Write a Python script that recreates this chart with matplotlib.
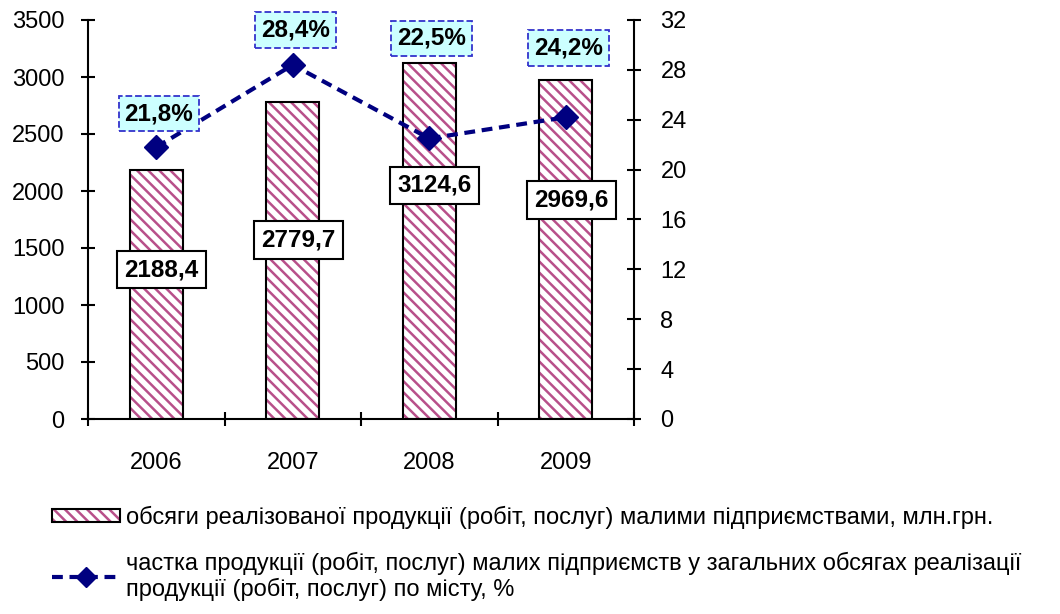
import numpy as np
import matplotlib
matplotlib.use("Agg")
import matplotlib.pyplot as plt
from matplotlib.patches import Patch
from matplotlib.lines import Line2D
from matplotlib.legend_handler import HandlerTuple

plt.rcParams['font.family'] = ['Liberation Sans', 'DejaVu Sans']
plt.rcParams['hatch.linewidth'] = 1.8

# data
years = ['2006', '2007', '2008', '2009']
volume = [2188.4, 2779.7, 3124.6, 2969.6]       # млн.грн.
share = [21.8, 28.4, 22.5, 24.2]                # %
volume_labels = ['2188,4', '2779,7', '3124,6', '2969,6']
share_labels = ['21,8%', '28,4%', '22,5%', '24,2%']
# label placement (left axis units / right axis units)
volume_label_y = [1310, 1570, 2050, 1920]
share_label_y = [24.5, 31.2, 30.55, 29.75]

bar_label = 'обсяги реалізованої продукції (робіт, послуг) малими підприємствами, млн.грн.'
line_label = ('частка продукції (робіт, послуг) малих підприємств у загальних обсягах реалізації\n'
              'продукції (робіт, послуг) по місту, %')

hatch_col = '#B8508A'
navy = '#000080'

fig = plt.figure(figsize=(10.6, 6.14), dpi=100)
ax = fig.add_axes([88 / 1060, 1 - 419 / 614, (634 - 88) / 1060, (419 - 20) / 614])
ax2 = ax.twinx()

x = np.arange(len(years))
ax.bar(x, volume, width=0.39, color='white', edgecolor=hatch_col, linewidth=0, hatch='\\' * 3, zorder=2)
ax.bar(x, volume, width=0.39, fill=False, edgecolor='black', linewidth=1.5, zorder=3)

ax.set_xlim(-0.5, 3.5)
ax.set_ylim(0, 3500)
ax.set_yticks(np.arange(0, 3501, 500))
ax.set_xticks(x)
ax.set_xticklabels(years)
ax.set_xticks(np.arange(-0.5, 3.6, 1), minor=True)
ax.tick_params(axis='x', which='major', length=0, pad=24, labelsize=17)
ax.tick_params(axis='x', which='minor', direction='inout', length=10, width=1.5)
ax.tick_params(axis='y', direction='inout', length=10, width=1.5, pad=12, labelsize=17)
for s in ['top', 'right']:
    ax.spines[s].set_visible(False)
ax.spines['left'].set_linewidth(1.5)
ax.spines['bottom'].set_linewidth(1.5)

for xi, yl, t in zip(x, volume_label_y, volume_labels):
    ax.text(xi + 0.04, yl, t, ha='center', va='center', fontsize=17.5, fontweight='bold', zorder=5,
            bbox=dict(boxstyle='square,pad=0.3', fc='white', ec='black', lw=1.5))

ax2.plot(x, share, color=navy, ls='--', lw=3, dashes=(2.6, 1.6), marker='D', ms=12, zorder=4)
ax2.set_ylim(0, 32)
ax2.set_yticks(np.arange(0, 33, 4))
ax2.tick_params(axis='y', direction='inout', length=10, width=1.5, pad=14, labelsize=17)
for s in ['top', 'left', 'bottom']:
    ax2.spines[s].set_visible(False)
ax2.spines['right'].set_linewidth(1.5)

for xi, yl, t in zip(x, share_label_y, share_labels):
    ax2.text(xi + 0.02, yl, t, ha='center', va='center', fontsize=17.5, fontweight='bold', zorder=5,
             clip_on=False,
             bbox=dict(boxstyle='square,pad=0.25', fc='#CCFFFF', ec='#3333CC', lw=1.3, ls='--'))

# legend
h_bar = (Patch(facecolor='white', edgecolor=hatch_col, hatch='\\' * 3, linewidth=0),
         Patch(fill=False, edgecolor='black', linewidth=1.5))
h_line = Line2D([], [], color=navy, ls='--', lw=3, dashes=(2.6, 1.6), marker='D', ms=10)
leg = fig.legend([h_bar, h_line], [bar_label, line_label], loc='upper left',
                 bbox_to_anchor=(52 / 1060, 1 - 506 / 614), frameon=False, fontsize=17,
                 handlelength=2.9, handleheight=0.45, handletextpad=0.25, labelspacing=0.95,
                 borderpad=0, borderaxespad=0,
                 handler_map={tuple: HandlerTuple(ndivide=1)})
for t in leg.get_texts():
    t.set_linespacing(1.15)

plt.savefig('out.png', dpi=100)
